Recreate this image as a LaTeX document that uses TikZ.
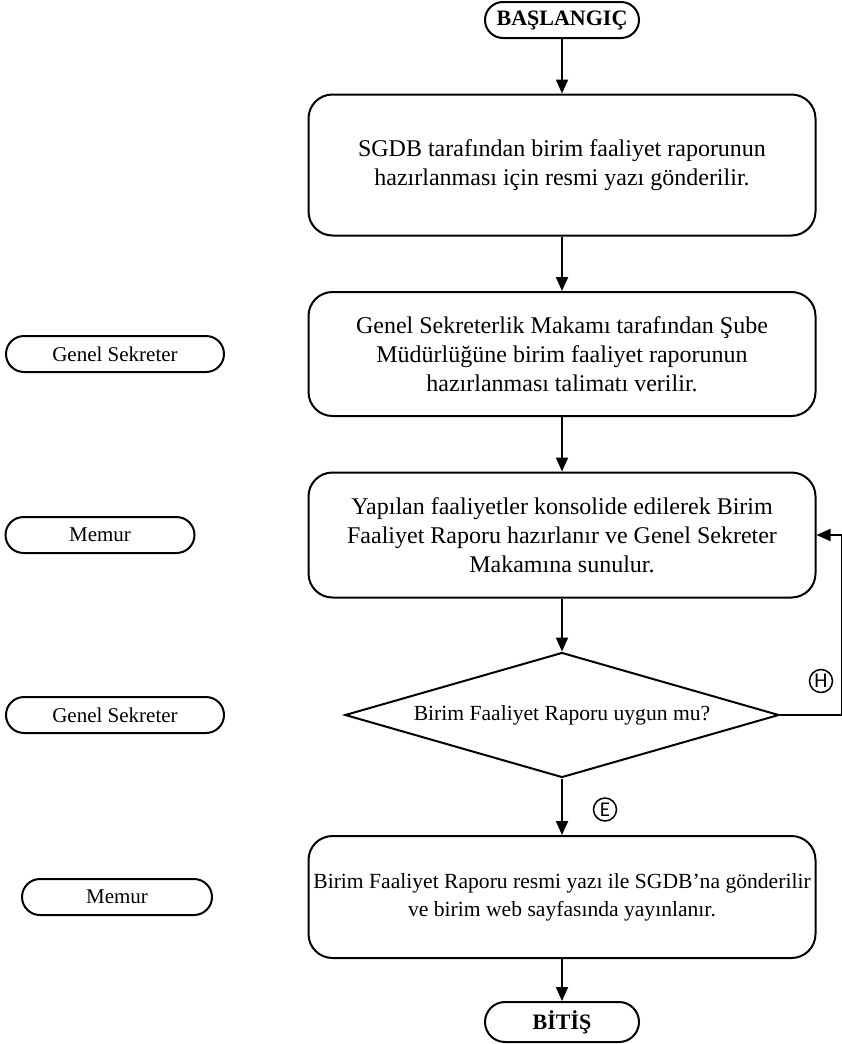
\documentclass[tikz,border=0pt]{standalone}
\usepackage{fontspec}
\setmainfont{Liberation Serif}
\newfontfamily\harffont{Carlito}
\usetikzlibrary{arrows.meta,positioning,shapes.geometric}

\begin{document}
\begin{tikzpicture}[x=0.5pt,y=0.5pt,>={Triangle[length=7pt,width=6pt]},line width=1pt,on grid]
    \useasboundingbox (0,0) rectangle (841,-1044);
    \tikzset{procbox/.style={draw,rounded corners=12pt,minimum width=253.5pt,align=center,inner sep=0pt,font=\fontsize{12}{14.5}\selectfont}}
    \tikzset{termbox/.style={draw,rounded corners=9pt,minimum width=77pt,minimum height=18pt,inner sep=0pt,font=\fontsize{11}{12}\selectfont\bfseries}}
    \tikzset{decbox/.style={draw,diamond,aspect=3.47,minimum width=217pt,minimum height=62.5pt,inner sep=0pt,font=\fontsize{10.8}{13}\selectfont}}
    \tikzset{rolebox/.style={draw,rounded corners=9pt,minimum height=18pt,inner sep=0pt,font=\fontsize{10.5}{12}\selectfont}}
    \tikzset{letterc/.style={draw,circle,minimum size=11.5pt,inner sep=0pt,line width=0.75pt,font=\harffont\fontsize{10.5}{11}\selectfont}}

    \node[termbox]          (S)                        at (562,-20) {BAŞLANGIÇ};
    \node[procbox,minimum height=70.5pt] (B1) [below =72.5pt of S]  {SGDB tarafından birim faaliyet raporunun\\ hazırlanması için resmi yazı gönderilir.};
    \node[procbox,minimum height=62pt]   (B2) [below =94.5pt of B1] {Genel Sekreterlik Makamı tarafından Şube\\ Müdürlüğüne birim faaliyet raporunun\\ hazırlanması talimatı verilir.};
    \node[procbox,minimum height=62.5pt] (B3) [below =90.5pt of B2] {Yapılan faaliyetler konsolide edilerek Birim\\ Faaliyet Raporu hazırlanır ve Genel Sekreter\\ Makamına sunulur.};
    \node[decbox]           (D)  [below =90pt of B3]   {Birim Faaliyet Raporu uygun mu?};
    \node[procbox,minimum height=61pt,font=\fontsize{10.8}{14}\selectfont] (B4) [below =91pt of D] {Birim Faaliyet Raporu resmi yazı ile SGDB’na gönderilir\\ ve birim web sayfasında yayınlanır.};
    \node[termbox,rounded corners=10pt,minimum height=20pt] (E) [below =62.5pt of B4] {BİTİŞ};

    % roles
    \node[rolebox,minimum width=109pt]  (R1) [left =223.5pt of B2] {Genel Sekreter};
    \node[rolebox,minimum width=94.5pt] (R2) [left =231pt of B3]   {Memur};
    \node[rolebox,minimum width=109pt]  (R3) [left =223.5pt of D]  {Genel Sekreter};
    \node[rolebox,minimum width=95pt]   (R4) [left =222.5pt of B4] {Memur};

    \node[letterc] (H)  at ([xshift=20.5pt,yshift=17pt]D.east)  {H};
    \node[letterc] (Ev) at ([xshift=21.5pt,yshift=-15.5pt]D.south) {E};
    \coordinate (back) at ([xshift=31pt]D.east);

    \draw[->] (S) -- (B1);
    \draw[->] (B1) -- (B2);
    \draw[->] (B2) -- (B3);
    \draw[->] (B3) -- (D);
    \draw[->] (D) -- (B4);
    \draw[->] (B4) -- (E);
    \draw[->] (D.east) -- (back) |- (B3.east);
\end{tikzpicture}
\end{document}
